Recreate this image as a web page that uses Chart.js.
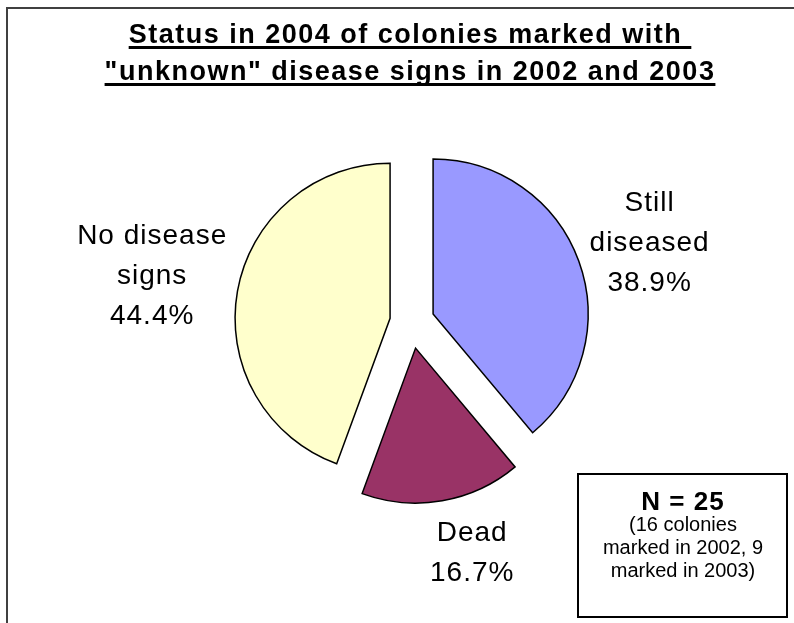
<!DOCTYPE html>
<html>
  <head>
    <meta charset="UTF-8" />
    <title>Status in 2004 of colonies</title>
    <style>
      html, body { margin: 0; padding: 0; background: #fff; overflow: hidden; }
      #wrap { position: relative; width: 794px; height: 623px; }
    </style>
  </head>
  <body>
    <div id="wrap"><canvas id="myCanvas"></canvas></div>
    <script src="https://cdn.jsdelivr.net/npm/chart.js@4/dist/chart.umd.min.js"></script>
    <script>
      // data (clockwise from 12 o'clock)
      const categories = ["Still diseased", "Dead", "No disease signs"];
      const labelLines = [["Still", "diseased"], ["Dead"], ["No disease", "signs"]];
      const percents = [38.9, 16.7, 44.4];
      const sliceColors = ["#9999FF", "#993366", "#FFFFCC"];
      const titleLines = ["Status in 2004 of colonies marked with ", "\"unknown\" disease signs in 2002 and 2003"];
      const noteTitle = "N = 25";
      const noteLines = ["(16 colonies", "marked in 2002, 9", "marked in 2003)"];

      const FONT = '"Liberation Sans", Arial, sans-serif';
      const RADIUS = 155;

      // excel-like look: frame, underlined title, outside labels, note box
      const excelLook = {
        id: "excelLook",
        afterDatasetsUpdate(chart) {
          // chart.js grows the radius of offset slices, undo that so all are the same size
          const meta = chart.getDatasetMeta(0);
          meta.data.forEach(arc => {
            const shift = (arc.options.offset || 0) / 4;
            const fix = 1 - Math.sin(Math.min(Math.PI, arc.circumference));
            const ro = shift * fix;
            arc.outerRadius = RADIUS - ro;
            const ao = (ro / Math.PI) / RADIUS / 2;
            arc.startAngle -= ao;
            arc.endAngle += ao;
          });
        },
        beforeDraw(chart) {
          // only the top and left edges of the frame are inside the picture
          const ctx = chart.ctx;
          ctx.save();
          ctx.fillStyle = "#fff";
          ctx.fillRect(0, 0, chart.width, chart.height);
          ctx.fillStyle = "#404040";
          ctx.fillRect(6, 7, 2, chart.height);
          ctx.fillRect(6, 7, chart.width, 2);
          ctx.restore();
        },
        afterDatasetsDraw(chart, args, opts) {
          const ctx = chart.ctx;
          const meta = chart.getDatasetMeta(0);
          ctx.save();
          ctx.fillStyle = "#000";
          ctx.textAlign = "center";
          ctx.textBaseline = "alphabetic";
          ctx.font = "28px " + FONT;
          ctx.letterSpacing = "1px";
          meta.data.forEach((arc, i) => {
            const lines = labelLines[i].concat(percents[i].toFixed(1) + "%");
            const mid = (arc.startAngle + arc.endAngle) / 2;
            const shift = (arc.options.offset || 0) / 4;
            const cx = arc.x + Math.cos(mid) * shift;
            const cy = arc.y + Math.sin(mid) * shift;
            const w = Math.max(...lines.map(l => ctx.measureText(l).width));
            const h = (lines.length - 1) * 40 + 20;
            const dist = RADIUS + 4 + w / 2 * Math.abs(Math.cos(mid)) + h / 2 * Math.abs(Math.sin(mid));
            const n = opts.nudge[i];
            const lx = cx + Math.cos(mid) * dist + n[0];
            const ly = cy + Math.sin(mid) * dist + n[1];
            lines.forEach((t, k) => ctx.fillText(t, lx, ly - h / 2 + 20 + k * 40));
          });

          // title, underlined
          ctx.font = "bold 27px " + FONT;
          ctx.letterSpacing = "1.5px";
          titleLines.forEach((t, k) => {
            const y = 43 + k * 37;
            ctx.fillText(t, 410, y);
            const tw = ctx.measureText(t).width;
            ctx.fillRect(410 - tw / 2, y + 3, tw, 3);
          });

          // note box
          ctx.strokeStyle = "#000";
          ctx.lineWidth = 2;
          ctx.strokeRect(578, 474, 209, 143);
          ctx.font = "bold 26px " + FONT;
          ctx.letterSpacing = "1px";
          ctx.fillText(noteTitle, 683, 510);
          ctx.font = "20px " + FONT;
          ctx.letterSpacing = "0px";
          noteLines.forEach((t, k) => ctx.fillText(t, 683, 531 + k * 23));
          ctx.restore();
        }
      };

      const ctx = document.getElementById("myCanvas").getContext("2d");
      const myChart = new Chart(ctx, {
        type: "pie",
        data: {
          labels: categories,
          datasets: [
            {
              data: percents,
              backgroundColor: sliceColors,
              borderColor: "#000",
              borderWidth: 1.5,
              borderJoinStyle: "miter",
              offset: [94, 106, 85],
              radius: RADIUS
            }
          ]
        },
        options: {
          responsive: true,
          maintainAspectRatio: false,
          animation: false,
          events: [],
          layout: { padding: { left: 28, right: 0, top: 21, bottom: 0 } },
          plugins: {
            legend: { display: false },
            tooltip: { enabled: false },
            excelLook: { nudge: [[-2, 6], [23, 10], [0, -2]] }
          }
        },
        plugins: [excelLook]
      });
    </script>
  </body>
</html>
